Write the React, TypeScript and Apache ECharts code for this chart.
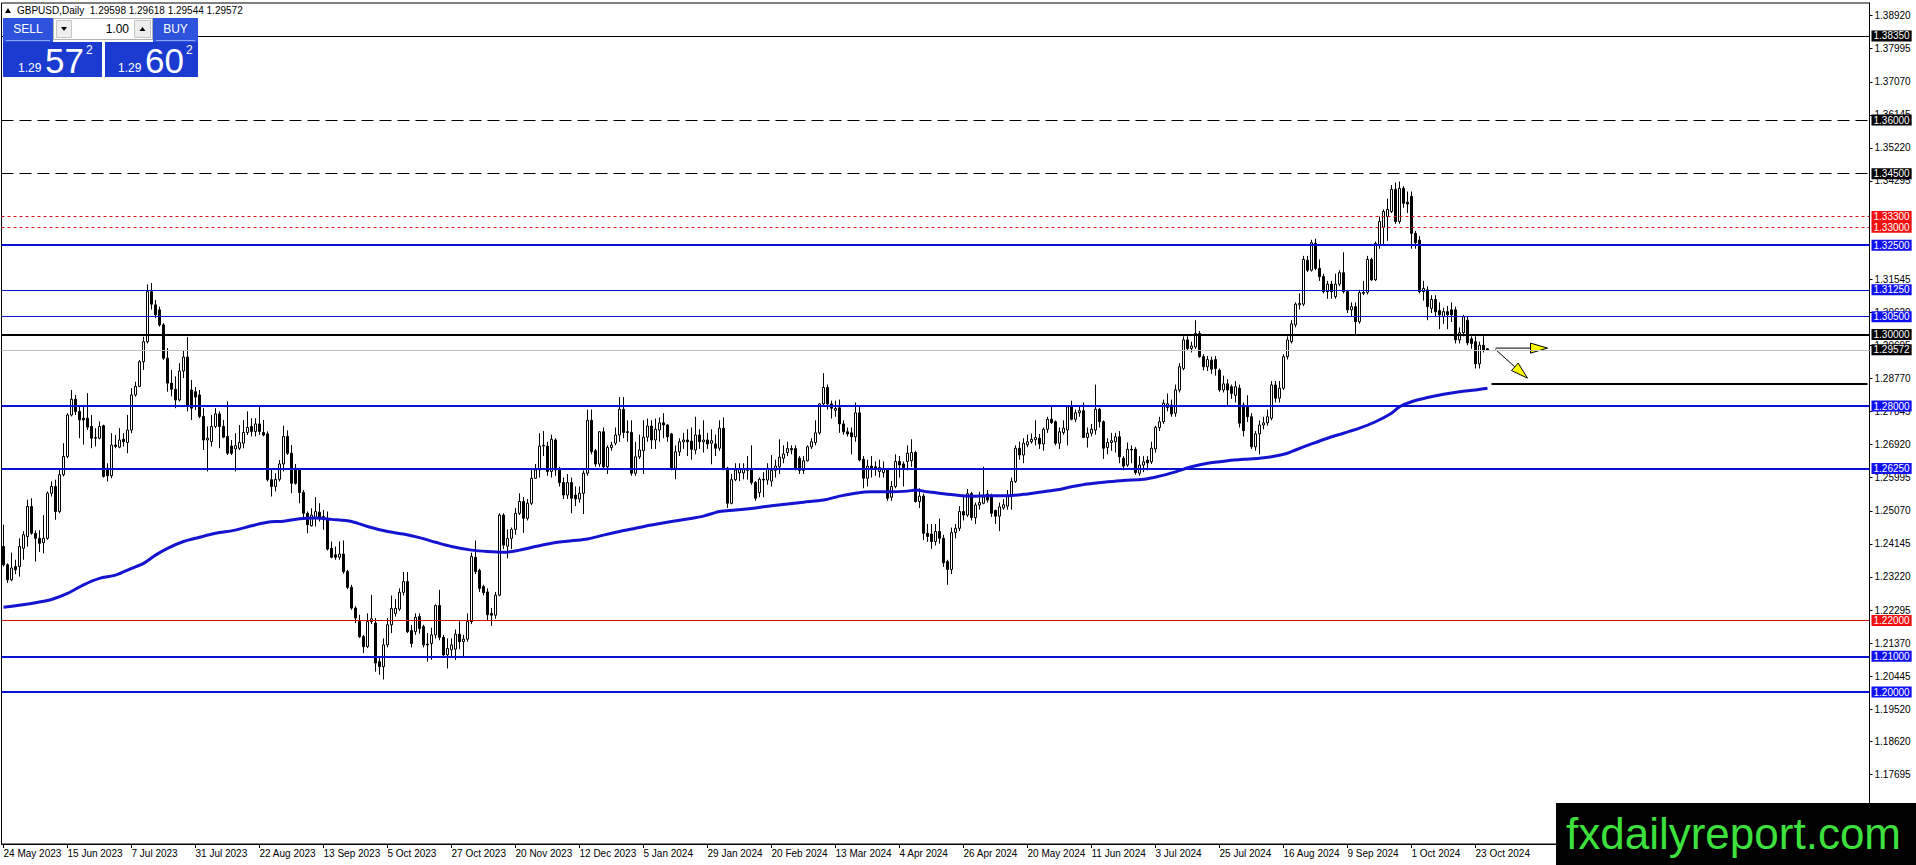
import { useEffect, useRef } from "react";
import * as echarts from "echarts";

// ---------- DATA ----------
const DATE_LABELS = [
  "24 May 2023", "15 Jun 2023", "7 Jul 2023", "31 Jul 2023", "22 Aug 2023", "13 Sep 2023",
  "5 Oct 2023", "27 Oct 2023", "20 Nov 2023", "12 Dec 2023", "5 Jan 2024", "29 Jan 2024",
  "20 Feb 2024", "13 Mar 2024", "4 Apr 2024", "26 Apr 2024", "20 May 2024", "11 Jun 2024",
  "3 Jul 2024", "25 Jul 2024", "16 Aug 2024", "9 Sep 2024", "1 Oct 2024", "23 Oct 2024",
];
const BARS_PER_LABEL = 16;
const SLOT_COUNT = 467;

const Y_TICKS = [
  1.3892, 1.37995, 1.3707, 1.36145, 1.3522, 1.34295, 1.31545, 1.3062,
  1.29695, 1.2877, 1.27845, 1.2692, 1.25995, 1.2507, 1.24145, 1.2322, 1.22295, 1.2137,
  1.20445, 1.1952, 1.1862, 1.17695,
];

// candles: [open, close, low, high] in 1/10000
const CANDLES_A = [
  [12407,12356,12351,12468],[12356,12314,12305,12360],[12314,12347,12310,12390],[12351,12342,12330,12370],
  [12351,12407,12323,12430],[12402,12440,12370,12450],[12435,12519,12407,12538],[12519,12444,12440,12542],
  [12444,12430,12365,12452],[12430,12416,12392,12453],[12418,12430,12388,12495],[12430,12556,12426,12561],
  [12556,12575,12547,12589],[12575,12505,12482,12594],[12505,12608,12500,12621],[12608,12659,12603,12696],
  [12659,12775,12654,12780],[12775,12819,12771,12845],[12819,12785,12775,12831],[12785,12761,12710,12803],
  [12766,12761,12692,12798],[12766,12741,12733,12836],[12743,12710,12682,12775],[12712,12710,12687,12738],
  [12710,12743,12707,12757],[12745,12603,12600,12748],[12626,12605,12589,12640],[12605,12691,12598,12724],
  [12691,12687,12682,12719],[12685,12705,12682,12738],[12707,12700,12687,12724],[12698,12733,12668,12775],
  [12733,12831,12724,12850],[12831,12855,12826,12868],[12855,12924,12853,12929],[12924,12980,12901,12994],
  [12980,13120,12975,13140],[13120,13085,13070,13144],[13083,13055,13046,13097],[13069,13027,13022,13078],
  [13027,12934,12929,13032],[12934,12864,12840,12962],[12864,12847,12827,12901],[12847,12817,12794,12883],
  [12817,12898,12813,12920],[12898,12937,12878,12957],[12937,12800,12785,12993],[12845,12794,12761,12873],
];
const CANDLES_B = [
  [12840,12825,12789,12853],[12831,12771,12766,12845],[12771,12705,12677,12794],[12705,12710,12617,12743],
  [12701,12743,12687,12775],[12743,12778,12738,12794],[12778,12743,12682,12785],[12743,12713,12710,12761],
  [12715,12668,12663,12813],[12688,12668,12663,12705],[12680,12689,12617,12724],[12682,12698,12677,12747],
  [12696,12726,12682,12761],[12726,12740,12719,12785],[12743,12729,12715,12766],[12729,12750,12715,12766],
  [12750,12729,12719,12801],[12726,12719,12715,12761],[12722,12594,12589,12729],[12594,12575,12547,12626],
  [12575,12595,12561,12612],[12595,12638,12589,12649],[12638,12715,12617,12745],[12715,12668,12663,12732],
  [12668,12584,12556,12691],[12626,12584,12580,12638],[12623,12558,12528,12626],[12558,12500,12486,12565],
  [12500,12468,12444,12505],[12465,12495,12463,12514],[12486,12505,12463,12545],[12503,12486,12477,12528],
  [12486,12491,12454,12509],[12486,12400,12396,12505],[12402,12377,12374,12421],[12384,12377,12370,12407],
  [12377,12386,12370,12421],[12386,12337,12331,12424],[12337,12293,12288,12342],[12293,12235,12230,12300],
  [12235,12207,12193,12240],[12197,12155,12151,12216],[12155,12127,12109,12160],[12127,12197,12123,12220],
  [12197,12205,12190,12272],[12193,12081,12057,12207],[12085,12071,12048,12095],[12071,12132,12035,12150],
];
const CANDLES_C = [
  [12132,12188,12125,12207],[12188,12234,12165,12270],[12220,12234,12211,12260],[12232,12279,12227,12290],
  [12279,12309,12270,12336],[12309,12169,12165,12336],[12172,12136,12125,12188],[12169,12209,12160,12220],
  [12211,12178,12163,12220],[12183,12132,12125,12188],[12134,12132,12085,12165],[12136,12160,12090,12180],
  [12160,12242,12150,12245],[12242,12153,12145,12286],[12153,12104,12097,12160],[12104,12122,12066,12150],
  [12118,12132,12097,12150],[12120,12162,12090,12175],[12162,12141,12120,12198],[12141,12148,12095,12160],
  [12148,12197,12141,12220],[12197,12379,12190,12390],[12377,12337,12330,12424],[12340,12290,12280,12345],
  [12295,12278,12270,12300],[12280,12216,12200,12290],[12220,12215,12185,12235],[12215,12271,12205,12280],
  [12271,12495,12268,12500],[12495,12411,12400,12500],[12408,12430,12374,12455],[12430,12455,12400,12460],
  [12455,12500,12440,12515],[12500,12533,12495,12556],[12533,12486,12445,12545],[12486,12528,12480,12540],
  [12528,12598,12523,12626],[12598,12621,12596,12638],[12621,12688,12600,12724],[12688,12690,12660,12730],
  [12688,12617,12605,12700],[12617,12707,12600,12720],[12705,12621,12605,12710],[12621,12586,12575,12630],
  [12586,12551,12540,12600],[12551,12586,12540,12610],[12586,12542,12500,12600],[12551,12540,12520,12575],
];
const CANDLES_D = [
  [12540,12556,12530,12575],[12556,12612,12498,12620],[12612,12760,12605,12790],[12760,12672,12665,12790],
  [12675,12638,12630,12680],[12638,12728,12630,12730],[12728,12630,12625,12740],[12630,12684,12610,12690],
  [12684,12691,12675,12700],[12696,12719,12690,12740],[12719,12791,12700,12825],[12791,12726,12710,12825],
  [12728,12726,12700,12760],[12726,12612,12605,12760],[12612,12658,12605,12700],[12658,12677,12652,12720],
  [12675,12713,12610,12760],[12713,12744,12700,12765],[12744,12705,12680,12760],[12705,12735,12680,12765],
  [12733,12753,12700,12768],[12753,12747,12710,12780],[12747,12714,12700,12750],[12722,12626,12620,12725],
  [12626,12672,12595,12690],[12672,12700,12660,12710],[12700,12705,12680,12725],[12705,12700,12660,12735],
  [12702,12679,12650,12740],[12677,12719,12665,12770],[12719,12700,12680,12735],[12700,12705,12670,12760],
  [12705,12694,12680,12725],[12696,12703,12637,12735],[12694,12682,12660,12720],[12682,12738,12675,12760],
  [12738,12626,12620,12768],[12626,12528,12515,12630],[12528,12594,12525,12610],[12594,12621,12590,12640],
  [12613,12623,12590,12640],[12613,12625,12595,12640],[12620,12626,12594,12660],[12621,12586,12580,12690],
  [12586,12542,12535,12590],[12558,12595,12545,12600],[12595,12593,12545,12615],[12593,12626,12580,12640],
];
const CANDLES_E = [
  [12590,12620,12575,12663],[12620,12632,12600,12650],[12630,12657,12610,12707],[12654,12666,12640,12690],
  [12670,12681,12660,12700],[12681,12677,12665,12690],[12681,12626,12620,12690],[12654,12620,12610,12660],
  [12620,12647,12610,12660],[12647,12686,12645,12690],[12686,12700,12680,12710],[12698,12725,12690,12760],
  [12725,12806,12720,12808],[12806,12852,12800,12892],[12852,12806,12790,12860],[12806,12794,12765,12815],
  [12788,12793,12770,12815],[12795,12750,12725,12818],[12750,12728,12720,12760],[12728,12722,12715,12740],
  [12725,12714,12665,12740],[12714,12781,12700,12810],[12781,12649,12645,12800],[12651,12598,12570,12660],
  [12598,12632,12575,12650],[12632,12625,12600,12660],[12630,12623,12605,12645],[12617,12628,12600,12650],
  [12614,12624,12600,12645],[12621,12542,12535,12625],[12545,12575,12535,12590],[12575,12645,12570,12665],
  [12645,12635,12600,12660],[12638,12628,12575,12645],[12645,12668,12620,12690],[12647,12670,12630,12707],
  [12670,12533,12530,12675],[12533,12548,12515,12570],[12548,12444,12425,12555],[12444,12435,12420,12470],
  [12442,12421,12400,12470],[12421,12449,12410,12470],[12449,12430,12415,12485],[12430,12362,12350,12440],
  [12365,12343,12300,12370],[12343,12446,12330,12460],[12446,12458,12430,12470],[12458,12505,12450,12520],
];
const CANDLES_F = [
  [12505,12495,12480,12548],[12495,12555,12490,12568],[12555,12488,12480,12560],[12488,12523,12470,12530],
  [12523,12530,12510,12560],[12528,12546,12525,12630],[12554,12537,12530,12565],[12546,12500,12490,12555],
  [12508,12492,12470,12510],[12492,12518,12450,12530],[12515,12524,12510,12540],[12520,12551,12510,12565],
  [12551,12589,12510,12600],[12589,12682,12585,12690],[12682,12663,12650,12700],[12663,12696,12640,12710],
  [12692,12700,12685,12720],[12700,12707,12695,12723],[12706,12712,12690,12760],[12710,12694,12680,12722],
  [12694,12735,12675,12740],[12735,12763,12725,12770],[12763,12754,12750,12800],[12756,12696,12690,12760],
  [12696,12728,12680,12740],[12726,12738,12720,12760],[12733,12798,12690,12800],[12798,12763,12760,12815],
  [12763,12781,12755,12790],[12781,12787,12770,12800],[12787,12712,12710,12810],[12712,12724,12684,12740],
  [12724,12735,12715,12750],[12733,12791,12720,12860],[12791,12756,12740,12795],[12756,12682,12652,12760],
  [12684,12698,12665,12710],[12698,12703,12675,12725],[12700,12714,12670,12725],[12714,12658,12640,12730],
  [12654,12632,12620,12660],[12635,12679,12630,12698],[12679,12677,12640,12690],[12679,12614,12608,12685],
  [12612,12635,12605,12660],[12635,12644,12615,12660],[12649,12641,12620,12660],[12644,12682,12638,12700],
];
const CANDLES_G = [
  [12680,12740,12670,12745],[12740,12756,12730,12770],[12756,12808,12750,12818],[12796,12806,12785,12835],
  [12803,12778,12770,12818],[12780,12845,12770,12860],[12845,12910,12838,12920],[12905,12985,12900,12995],
  [12985,12961,12955,12995],[12961,12968,12950,12980],[12965,13003,12960,13040],[13003,12938,12935,13010],
  [12938,12910,12900,12945],[12910,12930,12898,12940],[12928,12903,12890,12938],[12930,12905,12885,12940],
  [12900,12845,12840,12905],[12845,12862,12838,12885],[12862,12845,12800,12875],[12854,12835,12820,12860],
  [12830,12854,12810,12870],[12850,12752,12740,12860],[12803,12731,12715,12810],[12800,12770,12755,12830],
  [12770,12686,12680,12780],[12686,12722,12675,12730],[12722,12747,12665,12760],[12747,12753,12735,12770],
  [12753,12770,12745,12790],[12766,12859,12760,12870],[12859,12822,12810,12870],[12822,12850,12810,12870],
  [12850,12938,12845,12945],[12938,12985,12930,12995],[12980,13030,12975,13040],[13027,13085,13020,13090],
  [13083,13087,13070,13115],[13085,13210,13080,13220],[13208,13180,13175,13220],[13180,13257,13176,13265],
  [13255,13185,13180,13268],[13185,13162,13150,13210],[13162,13120,13115,13170],[13120,13141,13100,13150],
  [13141,13120,13100,13150],[13106,13141,13100,13170],[13141,13173,13135,13180],[13173,13120,13115,13230],
];
const CANDLES_H = [
  [13120,13069,13060,13125],[13069,13078,13050,13090],[13078,13036,13001,13090],[13036,13117,13030,13125],
  [13115,13118,13110,13150],[13118,13210,13112,13220],[13210,13153,13150,13215],[13153,13255,13150,13260],
  [13250,13316,13240,13330],[13300,13344,13250,13350],[13330,13350,13262,13380],[13344,13406,13340,13418],
  [13406,13316,13310,13425],[13316,13409,13310,13428],[13409,13367,13355,13415],[13370,13365,13340,13400],
  [13386,13283,13240,13400],[13283,13257,13240,13290],[13264,13120,13115,13275],[13120,13129,13095,13150],
  [13125,13078,13040,13135],[13073,13098,13060,13110],[13098,13064,13050,13110],[13067,13055,13015,13090],
  [13050,13064,13030,13075],[13064,13055,13015,13080],[13069,13055,13035,13090],[13069,12985,12975,13078],
  [12985,13005,12975,13020],[13005,13050,12995,13055],[13040,12977,12970,13050],[12988,12975,12960,12995],
  [12980,12918,12905,12995],[12918,12970,12905,12980],[12970,12957,12950,12995],[12960,12957,12954,12962],
];

// 200-period moving average, read at selected bars: [barIndex, value in 1/10000]
const MA_200 = [
  [0,12237],[8,12250],[12,12259],[16,12276],[20,12300],[24,12318],[28,12327],[32,12346],[35,12360],
  [38,12383],[41,12402],[45,12421],[49,12433],[53,12444],[58,12453],[62,12465],[66,12475],[70,12478],
  [74,12485],[78,12487],[82,12483],[87,12477],[91,12463],[96,12449],[100,12442],[104,12432],[108,12419],
  [112,12407],[117,12397],[121,12393],[125,12391],[129,12397],[133,12407],[137,12416],[142,12423],
  [146,12428],[150,12439],[154,12449],[158,12458],[162,12467],[167,12477],[171,12484],[175,12492],
  [179,12505],[183,12509],[188,12515],[192,12521],[200,12531],[205,12537],[209,12548],[213,12556],
  [217,12560],[222,12560],[226,12562],[228,12565],[231,12560],[234,12556],[238,12551],[242,12548],
  [246,12549],[251,12549],[255,12553],[259,12559],[263,12565],[267,12574],[271,12582],[276,12588],
  [280,12592],[285,12595],[289,12604],[293,12616],[297,12630],[301,12640],[306,12647],[310,12651],
  [314,12654],[318,12660],[321,12668],[323,12677],[327,12694],[331,12710],[335,12724],[339,12738],
  [343,12756],[347,12780],[349,12798],[352,12812],[356,12824],[360,12833],[364,12840],[368,12845],[371,12850],
];

const BLUE_THICK_LEVELS = [1.325, 1.28, 1.2625, 1.21, 1.2];
const BLUE_THIN_LEVELS = [1.3125, 1.305];
const BLACK_DASHED_LEVELS = [1.36, 1.345];
const BLACK_THIN_LEVELS = [1.3835];
const BLACK_THICK_LEVELS = [1.3];
const RED_DOTTED_LEVELS = [1.333, 1.33];
const RED_SOLID_LEVELS = [1.22];
const CURRENT_PRICE = 1.29572;
const SUPPORT_SEGMENT = { from: 372, to: 466, price: 1.2862 };
const ARROWS = [
  [373, 1.2962, 386, 1.2962],
  [373, 1.2958, 381, 1.2878],
];
const HEADER = { symbol: "GBPUSD,Daily", open: "1.29598", high: "1.29618", low: "1.29544", close: "1.29572" };
const QUOTE = { lot: "1.00", big: "1.29", sell: "57", buy: "60", frac: "2" };

// ---------- CHART ----------
const FONT = '"Liberation Sans", Arial, sans-serif';

function levelLine(value: number, color: string, width: number, type: any, boxColor: string) {
  return {
    yAxis: value,
    lineStyle: { color, width, type },
    label: {
      show: true,
      position: "end",
      distance: 2,
      formatter: value.toFixed(5),
      color: "#ffffff",
      backgroundColor: boxColor,
      padding: [1, 2, 0, 2],
      fontSize: 10,
      fontFamily: FONT,
      lineHeight: 10,
    },
  };
}

export default function App() {
  const ref = useRef<HTMLDivElement>(null);

  useEffect(() => {
    document.body.style.margin = "0";
    if (!ref.current) return;
    const chart = echarts.init(ref.current, null, { renderer: "svg" });

    const candles = [
      ...CANDLES_A, ...CANDLES_B, ...CANDLES_C, ...CANDLES_D,
      ...CANDLES_E, ...CANDLES_F, ...CANDLES_G, ...CANDLES_H,
    ].map(([o, c, l, h]) => [o / 1e4, c / 1e4, Math.min(l, o, c) / 1e4, Math.max(h, o, c) / 1e4]);

    const categories = Array.from({ length: SLOT_COUNT }, (_, i) => String(i));
    const isLabel = (idx: number) => idx % BARS_PER_LABEL === 0 && idx / BARS_PER_LABEL < DATE_LABELS.length;

    const BLUE = "#0a14d0";
    const BLUE_BOX = "#1010ee";
    const RED = "#d01010";
    const RED_BOX = "#f01010";

    const markData: any[] = [
      ...BLACK_THIN_LEVELS.map((v) => levelLine(v, "#000", 1, "solid", "#000")),
      ...BLACK_DASHED_LEVELS.map((v) => levelLine(v, "#000", 1, [12, 6], "#000")),
      ...RED_DOTTED_LEVELS.map((v) => levelLine(v, RED, 1, [3, 3], RED_BOX)),
      ...BLUE_THICK_LEVELS.map((v) => levelLine(v, BLUE, 2, "solid", BLUE_BOX)),
      ...BLUE_THIN_LEVELS.map((v) => levelLine(v, BLUE, 1, "solid", BLUE_BOX)),
      ...RED_SOLID_LEVELS.map((v) => levelLine(v, RED, 1, "solid", RED_BOX)),
      levelLine(CURRENT_PRICE, "#c0c0c0", 1, "solid", "#000"),
      ...BLACK_THICK_LEVELS.map((v) => levelLine(v, "#000", 2, "solid", "#000")),
      [
        { coord: [SUPPORT_SEGMENT.from, SUPPORT_SEGMENT.price], lineStyle: { color: "#000", width: 2, type: "solid" }, label: { show: false } },
        { coord: [SUPPORT_SEGMENT.to, SUPPORT_SEGMENT.price] },
      ],
    ];

    const headerText = `${HEADER.symbol}  ${HEADER.open} ${HEADER.high} ${HEADER.low} ${HEADER.close}`;
    const t = (text: string, x: number, y: number, size: number, fill: string, align = "left", va = "middle", extra: any = {}) => ({
      type: "text",
      z: 100,
      style: {
        text, x, y, fill,
        font: `${size}px ${FONT}`,
        textAlign: align, textVerticalAlign: va, align, verticalAlign: va,
        ...extra,
      },
    });

    const graphic: any[] = [
      { type: "polygon", z: 100, shape: { points: [[5, 13], [11, 13], [8, 8]] }, style: { fill: "#000" } },
      t(headerText, 17, 10, 10, "#000"),
      // one-click panel
      { type: "rect", z: 100, shape: { x: 3, y: 18, width: 50, height: 24 }, style: { fill: "#2d52dc" } },
      { type: "line", z: 101, shape: { x1: 6, y1: 40.5, x2: 50, y2: 40.5 }, style: { stroke: "#8aa6ff", lineWidth: 1 } },
      t("SELL", 28, 29, 12, "#ffffff", "center"),
      { type: "rect", z: 100, shape: { x: 53.5, y: 18.5, width: 99, height: 21 }, style: { fill: "#ffffff", stroke: "#b0b0b0", lineWidth: 1 } },
      { type: "rect", z: 101, shape: { x: 56.5, y: 20.5, width: 15, height: 17 }, style: { fill: "#eeeeee", stroke: "#c4c4c4", lineWidth: 1 } },
      { type: "polygon", z: 102, shape: { points: [[61, 27], [67, 27], [64, 31]] }, style: { fill: "#000" } },
      t(QUOTE.lot, 129, 29, 12, "#000", "right"),
      { type: "rect", z: 101, shape: { x: 134.5, y: 20.5, width: 16, height: 17 }, style: { fill: "#eeeeee", stroke: "#c4c4c4", lineWidth: 1 } },
      { type: "polygon", z: 102, shape: { points: [[139.5, 31], [145.5, 31], [142.5, 27]] }, style: { fill: "#000" } },
      { type: "rect", z: 100, shape: { x: 153, y: 18, width: 45, height: 24 }, style: { fill: "#2d52dc" } },
      { type: "line", z: 101, shape: { x1: 156, y1: 40.5, x2: 195, y2: 40.5 }, style: { stroke: "#8aa6ff", lineWidth: 1 } },
      t("BUY", 175.5, 29, 12, "#ffffff", "center"),
      { type: "rect", z: 100, shape: { x: 3, y: 42, width: 99, height: 35 }, style: { fill: "#1a3ad0" } },
      { type: "rect", z: 100, shape: { x: 105, y: 42, width: 93, height: 35 }, style: { fill: "#1a3ad0" } },
      t(QUOTE.big, 18, 68, 12, "#ffffff"),
      t(QUOTE.sell, 45, 60, 35, "#ffffff"),
      t(QUOTE.frac, 86, 50, 12, "#ffffff"),
      t(QUOTE.big, 118, 68, 12, "#ffffff"),
      t(QUOTE.buy, 145, 60, 35, "#ffffff"),
      t(QUOTE.frac, 186, 50, 12, "#ffffff"),
      // watermark
      { type: "rect", z: 100, shape: { x: 1556, y: 803, width: 360, height: 62 }, style: { fill: "#000" } },
      t("fxdailyreport.com", 1566, 833, 44, "#3ee03e"),
    ];

    chart.setOption({
      animation: false,
      backgroundColor: "#ffffff",
      textStyle: { fontFamily: FONT },
      grid: {
        left: 1.5, right: 46.5, top: 3, bottom: 21,
        show: true, borderColor: "#000", borderWidth: 1, backgroundColor: "#fff",
      },
      xAxis: {
        type: "category",
        data: categories,
        boundaryGap: true,
        axisLine: { show: true, lineStyle: { color: "#000", width: 1 } },
        axisTick: { show: true, interval: (i: number) => isLabel(i), alignWithLabel: true, length: 4, lineStyle: { color: "#000" } },
        axisLabel: {
          interval: (i: number) => isLabel(i),
          formatter: (_v: string, i: number) => DATE_LABELS[i / BARS_PER_LABEL] ?? "",
          align: "left",
          margin: 4,
          fontSize: 10,
          color: "#000",
          fontFamily: FONT,
        },
        splitLine: { show: false },
      },
      yAxis: {
        type: "value",
        position: "right",
        min: 1.1575,
        max: 1.39273,
        scale: true,
        axisLine: { show: true, lineStyle: { color: "#000", width: 1 } },
        axisTick: { show: true, customValues: Y_TICKS, length: 3, lineStyle: { color: "#000" } },
        axisLabel: {
          customValues: Y_TICKS,
          formatter: (v: number) => v.toFixed(5),
          margin: 5,
          fontSize: 10,
          color: "#000",
          fontFamily: FONT,
        },
        splitLine: { show: false },
      },
      series: [
        {
          type: "candlestick",
          data: candles,
          barWidth: 3,
          itemStyle: { color: "#ffffff", color0: "#000000", borderColor: "#000000", borderColor0: "#000000", borderWidth: 1 },
          markLine: { symbol: "none", silent: true, animation: false, precision: 5, data: markData },
          z: 2,
        },
        {
          type: "line",
          data: MA_200.map(([i, v]) => [i, v / 1e4]),
          showSymbol: false,
          smooth: 0.3,
          lineStyle: { color: "#1414d0", width: 3 },
          z: 3,
        },
        {
          type: "custom",
          data: ARROWS,
          encode: { x: [0, 2], y: [1, 3] },
          z: 4,
          renderItem: (_p: any, api: any) => {
            const a = api.coord([api.value(0), api.value(1)]);
            const b = api.coord([api.value(2), api.value(3)]);
            const dx = b[0] - a[0], dy = b[1] - a[1];
            const len = Math.hypot(dx, dy) || 1;
            const ux = dx / len, uy = dy / len;
            const L = 17, W = 5;
            const bx = b[0] - ux * L, by = b[1] - uy * L;
            return {
              type: "group",
              children: [
                { type: "line", shape: { x1: a[0], y1: a[1], x2: bx, y2: by }, style: { stroke: "#000", lineWidth: 1 } },
                {
                  type: "polygon",
                  shape: { points: [[b[0], b[1]], [bx - uy * W, by + ux * W], [bx + uy * W, by - ux * W]] },
                  style: { fill: "#ffff00", stroke: "#000", lineWidth: 1 },
                },
              ],
            };
          },
        },
      ],
      graphic,
    });

    return () => chart.dispose();
  }, []);

  return (
    <div
      ref={ref}
      style={{ position: "absolute", left: 0, top: 0, width: 1916, height: 865, background: "#fff", overflow: "hidden" }}
    />
  );
}
